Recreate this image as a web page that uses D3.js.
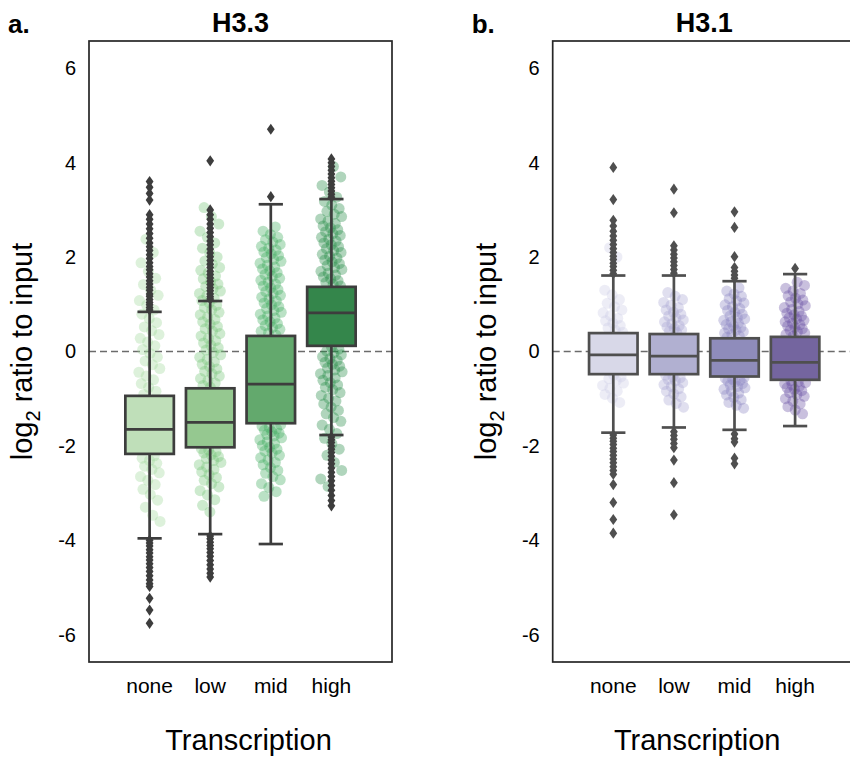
<!DOCTYPE html>
<html>
<head>
<meta charset="utf-8">
<script src="https://cdn.jsdelivr.net/npm/d3@7"></script>
<style>
  html, body { margin: 0; padding: 0; background: #ffffff; }
  svg { display: block; }
  text { font-family: "Liberation Sans", Arial, sans-serif; fill: #000; }
</style>
</head>
<body>
<svg id="chart" width="850" height="760"></svg>
<script>
// ---- data -------------------------------------------------------------
const categories = ["none", "low", "mid", "high"];
const yTicks = [-6, -4, -2, 0, 2, 4, 6];
const panelTitles = ["H3.3", "H3.1"];
const panelLetters = ["a.", "b."];

// H3.3 box statistics (log2 ratio to input), one value per category
const h33Q1 = [-2.17, -2.03, -1.52, 0.12];
const h33Median = [-1.65, -1.50, -0.69, 0.82];
const h33Q3 = [-0.94, -0.78, 0.33, 1.37];
const h33WhiskerLo = [-3.96, -3.87, -4.08, -1.77];
const h33WhiskerHi = [0.84, 1.07, 3.12, 3.23];

// H3.1 box statistics
const h31Q1 = [-0.48, -0.48, -0.53, -0.60];
const h31Median = [-0.07, -0.10, -0.19, -0.23];
const h31Q3 = [0.39, 0.37, 0.28, 0.31];
const h31WhiskerLo = [-1.72, -1.61, -1.66, -1.58];
const h31WhiskerHi = [1.61, 1.61, 1.49, 1.64];

// H3.3 outliers beyond the whiskers
const h33OutNone = [0.88, 0.93, 0.99, 1.04, 1.10, 1.17, 1.22, 1.30, 1.36, 1.43, 1.50, 1.58, 1.65, 1.73,
  1.80, 1.88, 1.97, 2.05, 2.14, 2.22, 2.30, 2.40, 2.50, 2.60, 2.70, 2.80, 2.90,
  3.21, 3.35, 3.48, 3.60,
  -4.00, -4.06, -4.12, -4.20, -4.27, -4.35, -4.42, -4.50, -4.58, -4.66, -4.75, -4.84, -4.92, -4.98,
  -5.23, -5.48, -5.76];
const h33OutLow = [1.11, 1.16, 1.22, 1.29, 1.35, 1.42, 1.49, 1.56, 1.63, 1.70, 1.78, 1.85, 1.93, 2.01,
  2.09, 2.17, 2.26, 2.34, 2.43, 2.52, 2.61, 2.70, 2.80, 2.90, 3.00, 4.04,
  -3.91, -3.97, -4.04, -4.11, -4.18, -4.26, -4.34, -4.43, -4.52, -4.61, -4.70, -4.78];
const h33OutMid = [3.28, 4.71];
const h33OutHigh = [3.27, 3.33, 3.40, 3.47, 3.54, 3.61, 3.68, 3.76, 3.84, 3.92, 4.00, 4.08,
  -1.81, -1.87, -1.93, -2.00, -2.07, -2.14, -2.22, -2.30, -2.38, -2.47, -2.56, -2.65, -2.74,
  -2.84, -2.94, -3.05, -3.16, -3.27];

// H3.1 outliers
const h31OutNone = [1.65, 1.72, 1.80, 1.87, 1.95, 2.02, 2.10, 2.18, 2.27, 2.36, 2.45, 2.55, 2.66, 2.78,
  3.22, 3.90,
  -1.77, -1.84, -1.90, -1.97, -2.05, -2.12, -2.20, -2.28, -2.36, -2.44, -2.52, -2.60, -2.82,
  -3.20, -3.56, -3.85];
const h31OutLow = [1.66, 1.74, 1.82, 1.90, 1.98, 2.06, 2.15, 2.24, 2.94, 3.44,
  -1.70, -1.78, -1.86, -1.95, -2.04, -2.30, -2.78, -3.46];
const h31OutMid = [1.55, 1.62, 1.70, 1.78, 2.01, 2.63, 2.96,
  -1.75, -1.85, -1.92, -2.26, -2.38];
const h31OutHigh = [1.76];

// H3.3 values shown as the jittered strip
const h33StripNone = [2.38, 2.10, 1.88, 1.70, 1.55, 1.42, 1.30, 1.19, 1.08, 0.98, 0.88, 0.79, 0.70,
  0.61, 0.52, 0.44, 0.36, 0.28, 0.20, 0.12, 0.04, -0.04, -0.12, -0.20, -0.28, -0.36, -0.44, -0.52,
  -0.60, -0.68, -0.76, -0.84, -0.91, -1.10, -1.40, -1.70, -2.00,
  -2.21, -2.26, -2.31, -2.37, -2.43, -2.50, -2.57, -2.65, -2.73, -2.82, -2.92, -3.03, -3.15,
  -3.30, -3.47, -3.60];
const h33StripLow = [3.05, 2.86, 2.70, 2.55, 2.42, 2.30, 2.19, 2.09, 2.00, 1.92, 1.85, 1.78, 1.72,
  1.66, 1.60, 1.54, 1.48, 1.43, 1.38, 1.33, 1.28, 1.23, 1.18, 1.13, 1.08, 1.03, 0.98, 0.93, 0.88,
  0.83, 0.78, 0.73, 0.68, 0.63, 0.58, 0.53, 0.48, 0.43, 0.38, 0.33, 0.28, 0.23, 0.18, 0.13, 0.08,
  0.03, -0.02, -0.07, -0.12, -0.17, -0.22, -0.27, -0.32, -0.37, -0.42, -0.47, -0.52, -0.57, -0.62,
  -0.67, -0.72, -0.76,
  -0.95, -1.25, -1.55, -1.85,
  -2.06, -2.09, -2.12, -2.15, -2.19, -2.23, -2.27, -2.31, -2.35, -2.40, -2.45, -2.50, -2.55,
  -2.61, -2.67, -2.73, -2.80, -2.87, -2.95, -3.04, -3.14, -3.26, -3.40];
const h33StripMid = [2.64, 2.55, 2.48, 2.42, 2.37, 2.32, 2.27, 2.23, 2.19, 2.15, 2.11, 2.07, 2.03,
  1.99, 1.95, 1.91, 1.87, 1.83, 1.79, 1.75, 1.71, 1.67, 1.63, 1.59, 1.55, 1.51, 1.47, 1.43, 1.39,
  1.35, 1.31, 1.27, 1.23, 1.19, 1.15, 1.11, 1.07, 1.03, 0.99, 0.95, 0.91, 0.87, 0.83, 0.79, 0.75,
  0.71, 0.67, 0.63, 0.59, 0.55, 0.51, 0.47, 0.43, 0.39, 0.35,
  0.20, -0.15, -0.50, -0.85, -1.20,
  -1.55, -1.58, -1.61, -1.64, -1.67, -1.70, -1.73, -1.76, -1.79, -1.83, -1.87, -1.91, -1.95,
  -1.99, -2.03, -2.07, -2.11, -2.15, -2.20, -2.25, -2.30, -2.35, -2.40, -2.46, -2.52, -2.58,
  -2.65, -2.72, -2.80, -2.88, -2.97, -3.07];
const h33StripHigh = [3.92, 3.70, 3.52, 3.38, 3.27, 3.18, 3.10, 3.03, 2.97, 2.91, 2.86, 2.81, 2.76,
  2.71, 2.66, 2.62, 2.58, 2.54, 2.50, 2.46, 2.42, 2.38, 2.34, 2.30, 2.26, 2.22, 2.18, 2.14, 2.10,
  2.06, 2.02, 1.98, 1.94, 1.90, 1.86, 1.82, 1.78, 1.74, 1.70, 1.66, 1.62, 1.58, 1.54, 1.50, 1.46,
  1.42, 1.39,
  1.20, 0.90, 0.60, 0.30,
  0.09, 0.05, 0.01, -0.03, -0.07, -0.11, -0.15, -0.19, -0.23, -0.27, -0.31, -0.35, -0.39, -0.43,
  -0.47, -0.51, -0.56, -0.61, -0.66, -0.71, -0.76, -0.81, -0.87, -0.93, -0.99, -1.05, -1.11,
  -1.18, -1.25, -1.32, -1.40, -1.48, -1.56, -1.65, -1.74, -1.84, -1.95, -2.07, -2.20, -2.35,
  -2.52, -2.70, -2.86];

// H3.1 strip values
const h31StripNone = [2.20, 2.00, 1.30, 1.20, 1.10, 1.02, 0.95, 0.88, 0.82, 0.76, 0.70, 0.65, 0.60,
  0.55, 0.50, 0.45, 0.41, 0.20, 0.00, -0.20, -0.40,
  -0.50, -0.54, -0.58, -0.62, -0.67, -0.72, -0.78, -0.84, -0.91, -0.99, -1.08];
const h31StripLow = [1.25, 1.17, 1.10, 1.04, 0.98, 0.93, 0.88, 0.83, 0.79, 0.75, 0.71, 0.67, 0.63,
  0.59, 0.55, 0.52, 0.49, 0.46, 0.43, 0.40, 0.20, 0.00, -0.20, -0.40,
  -0.50, -0.53, -0.56, -0.59, -0.62, -0.66, -0.70, -0.74, -0.79, -0.84, -0.90, -0.96, -1.03,
  -1.10, -1.18];
const h31StripMid = [1.35, 1.28, 1.22, 1.17, 1.12, 1.07, 1.03, 0.99, 0.95, 0.91, 0.87, 0.83, 0.79,
  0.75, 0.72, 0.69, 0.66, 0.63, 0.60, 0.57, 0.54, 0.51, 0.48, 0.45, 0.42, 0.39, 0.36, 0.33, 0.30,
  0.10, -0.10, -0.30, -0.45,
  -0.55, -0.57, -0.59, -0.61, -0.63, -0.65, -0.68, -0.71, -0.74, -0.77, -0.80, -0.84, -0.88,
  -0.92, -0.97, -1.02, -1.08, -1.14, -1.20];
const h31StripHigh = [1.47, 1.40, 1.34, 1.28, 1.23, 1.18, 1.13, 1.09, 1.05, 1.01, 0.97, 0.93, 0.89,
  0.85, 0.81, 0.78, 0.75, 0.72, 0.69, 0.66, 0.63, 0.60, 0.57, 0.54, 0.51, 0.48, 0.45, 0.42, 0.39,
  0.36, 0.33, 0.10, -0.10, -0.30, -0.50,
  -0.62, -0.64, -0.66, -0.68, -0.71, -0.74, -0.77, -0.80, -0.83, -0.87, -0.91, -0.95, -1.00,
  -1.05, -1.11, -1.17, -1.24, -1.32];

// colours
const greenBoxes = ["#bfdfb9", "#95c890", "#63a96d", "#34864b"];
const greenPoints = ["#a1d99b", "#74c476", "#41ab5d", "#238b45"];
const purpleBoxes = ["#d8d8e8", "#b1b0d1", "#8f8cbb", "#74659f"];
const purplePoints = ["#cdcde5", "#a9a7d3", "#8a84c2", "#6a51a3"];

// ---- assemble panels ---------------------------------------------------
function makeStats(q1, med, q3, lo, hi, outs, strips) {
  return categories.map((c, i) => ({
    cat: c, q1: q1[i], median: med[i], q3: q3[i], lo: lo[i], hi: hi[i],
    outliers: outs[i], strip: strips[i]
  }));
}

const panels = [
  {
    title: panelTitles[0], letter: panelLetters[0], left: 89, labelShift: 8,
    boxColors: greenBoxes, pointColors: greenPoints, lineColor: "#3d3d3d",
    stats: makeStats(h33Q1, h33Median, h33Q3, h33WhiskerLo, h33WhiskerHi,
      [h33OutNone, h33OutLow, h33OutMid, h33OutHigh],
      [h33StripNone, h33StripLow, h33StripMid, h33StripHigh])
  },
  {
    title: panelTitles[1], letter: panelLetters[1], left: 552.7, labelShift: -7,
    boxColors: purpleBoxes, pointColors: purplePoints, lineColor: "#4f4f4f",
    stats: makeStats(h31Q1, h31Median, h31Q3, h31WhiskerLo, h31WhiskerHi,
      [h31OutNone, h31OutLow, h31OutMid, h31OutHigh],
      [h31StripNone, h31StripLow, h31StripMid, h31StripHigh])
  }
];

// ---- layout --------------------------------------------------------------
const plotTop = 41, plotW = 303, plotH = 621;
const svg = d3.select("#chart");
svg.append("rect").attr("width", 850).attr("height", 760).attr("fill", "#fff");

const y = d3.scaleLinear().domain([-6.58, 6.58]).range([plotTop + plotH, plotTop]);
const diamond = "M0,-5.6L3.9,0L0,5.6L-3.9,0Z";
const jitterPx = 11;

// van der Corput sequence in base 3 spreads neighbouring points across the strip
function spread(i) {
  let f = 1, r = 0, n = i + 1;
  while (n > 0) { f /= 3; r += f * (n % 3); n = Math.floor(n / 3); }
  return r * 2 - 1;
}

panels.forEach(p => {
  const g = svg.append("g");
  const x = d3.scaleBand().domain(categories)
    .range([p.left + plotW * 0.1, p.left + plotW * 0.9]);
  const boxW = x.bandwidth() * 0.8;
  const capW = boxW * 0.5;
  const cx = c => x(c) + x.bandwidth() / 2;

  // zero reference line
  g.append("line")
    .attr("x1", p.left).attr("x2", p.left + plotW)
    .attr("y1", y(0)).attr("y2", y(0))
    .attr("stroke", "#6b6b6b").attr("stroke-width", 1.5)
    .attr("stroke-dasharray", "7,4");

  // jittered strip of individual values
  p.stats.forEach((s, ci) => {
    g.append("g").selectAll("circle").data(s.strip).join("circle")
      .attr("cx", (v, i) => cx(s.cat) + spread(i + ci * 5) * jitterPx)
      .attr("cy", v => y(v))
      .attr("r", 5.5)
      .attr("fill", p.pointColors[ci])
      .attr("fill-opacity", 0.36);
  });

  // boxes, whiskers and caps
  p.stats.forEach((s, ci) => {
    const bx = g.append("g");
    const c = cx(s.cat);
    bx.append("line").attr("x1", c).attr("x2", c).attr("y1", y(s.q3)).attr("y2", y(s.hi))
      .attr("stroke", p.lineColor).attr("stroke-width", 2.7);
    bx.append("line").attr("x1", c).attr("x2", c).attr("y1", y(s.q1)).attr("y2", y(s.lo))
      .attr("stroke", p.lineColor).attr("stroke-width", 2.7);
    [s.lo, s.hi].forEach(v => {
      bx.append("line").attr("x1", c - capW / 2).attr("x2", c + capW / 2)
        .attr("y1", y(v)).attr("y2", y(v))
        .attr("stroke", p.lineColor).attr("stroke-width", 2.7);
    });
    bx.append("rect")
      .attr("x", c - boxW / 2).attr("width", boxW)
      .attr("y", y(s.q3)).attr("height", y(s.q1) - y(s.q3))
      .attr("fill", p.boxColors[ci])
      .attr("stroke", p.lineColor).attr("stroke-width", 2.7);
    bx.append("line").attr("x1", c - boxW / 2).attr("x2", c + boxW / 2)
      .attr("y1", y(s.median)).attr("y2", y(s.median))
      .attr("stroke", p.lineColor).attr("stroke-width", 2.7);
    bx.selectAll("path").data(s.outliers).join("path")
      .attr("d", diamond)
      .attr("transform", v => `translate(${c},${y(v)})`)
      .attr("fill", p.lineColor);
  });

  // frame
  g.append("rect")
    .attr("x", p.left).attr("y", plotTop).attr("width", plotW).attr("height", plotH)
    .attr("fill", "none").attr("stroke", "#262626").attr("stroke-width", 1.7);

  // axes
  const yAxis = g.append("g").attr("transform", `translate(${p.left},0)`)
    .call(d3.axisLeft(y).tickValues(yTicks).tickSize(0).tickPadding(13).tickFormat(d => String(d)));
  yAxis.select(".domain").remove();
  yAxis.selectAll("text").attr("font-size", 20).attr("font-family", "Liberation Sans, Arial, sans-serif").attr("fill", "#000");

  const xAxis = g.append("g").attr("transform", `translate(0,${plotTop + plotH})`)
    .call(d3.axisBottom(x).tickSize(0).tickPadding(16));
  xAxis.select(".domain").remove();
  xAxis.selectAll("text").attr("font-size", 21).attr("font-family", "Liberation Sans, Arial, sans-serif").attr("fill", "#000");

  // titles and labels
  const midX = p.left + plotW / 2;
  g.append("text").attr("x", midX).attr("y", 31.7).attr("text-anchor", "middle")
    .attr("font-size", 27).attr("font-weight", "bold").text(p.title);
  g.append("text").attr("x", p.left - 81).attr("y", 33)
    .attr("font-size", 26).attr("font-weight", "bold").text(p.letter);
  g.append("text").attr("x", midX + p.labelShift).attr("y", 750).attr("text-anchor", "middle")
    .attr("font-size", 29).text("Transcription");

  const yl = g.append("text")
    .attr("transform", `translate(${p.left - 57},${plotTop + plotH / 2}) rotate(-90)`)
    .attr("text-anchor", "middle").attr("font-size", 29);
  yl.append("tspan").text("log");
  yl.append("tspan").attr("font-size", 20).attr("dy", 8).text("2");
  yl.append("tspan").attr("dy", -8).text(" ratio to input");
});
</script>
</body>
</html>
